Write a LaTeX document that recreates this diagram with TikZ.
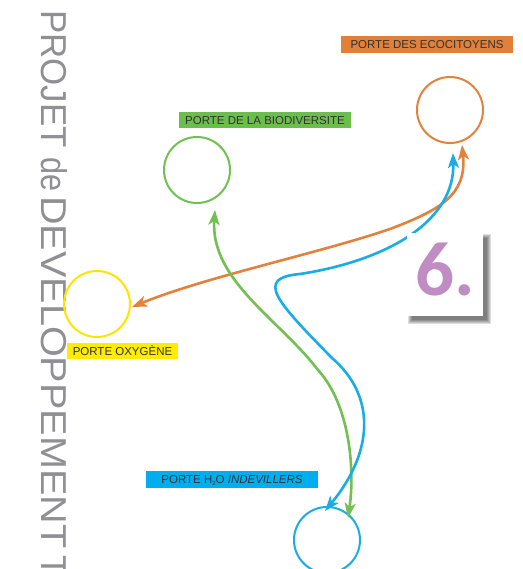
\documentclass[tikz,border=0pt]{standalone}
\usepackage{fontspec}
\setmainfont{Liberation Sans}
\newfontfamily\carlitofont{Carlito}
\usetikzlibrary{arrows.meta,calc}
\definecolor{oraline}{HTML}{E2823D}
\definecolor{orafill}{HTML}{E2803A}
\definecolor{grnline}{HTML}{72BF52}
\definecolor{grnfill}{HTML}{6BBD4E}
\definecolor{bluline}{HTML}{1AACE5}
\definecolor{blufill}{HTML}{00AEEF}
\definecolor{yelline}{HTML}{FFE400}
\definecolor{yelfill}{HTML}{FFEC00}
\definecolor{labeltxt}{HTML}{333333}
\definecolor{titlegray}{HTML}{909094}
\definecolor{sixpurple}{HTML}{BF8DC3}
\begin{document}
\begin{tikzpicture}[x=1pt,y=-1pt,
  gate/.style={circle,draw=#1,line width=2pt,minimum size=66pt,inner sep=0pt},
  lbl/.style={fill=#1,text=labeltxt,font=\fontsize{11.5}{12}\selectfont,
    minimum height=16.5pt,inner sep=0pt,text height=8.2pt,text depth=0pt},
  titleword/.style={rotate=-90,anchor=base west,inner sep=0pt,text=titlegray,
    font=\fontsize{36}{36}\selectfont},
  link/.style={line width=2.6pt,draw=#1,
    {Stealth[length=15pt,width=11pt,inset=4pt]}-{Stealth[length=15pt,width=11pt,inset=4pt]}}]
\clip (0,0) rectangle (522,569);
\fill[white] (0,0) rectangle (522,569);

% vertical title
\node[titleword] (t1) at (41,10) {\scalebox{0.97}[1]{PROJET}};
\node[titleword] (t2) at (41,157) {\scalebox{0.85}[1]{de}};
\node[titleword] (t3) at (41,196) {\scalebox{1.1}[1]{DEVELOPPEMENT}};
\node[titleword] (t4) at (41,555) {T};

% gates
\node[gate=oraline] (eco) at (450,110) {};
\node[gate=grnline] (bio) at (197,170) {};
\node[gate=yelline] (oxy) at (97,304) {};
\node[gate=bluline] (h2o) at (327,540) {};

% labels
\node[lbl=orafill,minimum width=172pt] (ecolbl) at (427,44.5) {PORTE DES ECOCITOYENS};
\node[lbl=grnfill,minimum width=172pt] (biolbl) at (265,120) {PORTE DE LA BIODIVERSITE};
\node[lbl=yelfill,minimum width=111pt] (oxylbl) at (122.5,351) {PORTE OXYGÈNE};
\node[lbl=blufill,minimum width=172pt] (h2olbl) at (232,479.5)
  {PORTE H{\fontsize{6}{6}\selectfont\raisebox{-1.5pt}{2}}O \textit{INDEVILLERS}};

% connector ends
\coordinate (ecoO) at ($(eco)+(12,35)$);
\coordinate (ecoB) at ($(eco)+(3,43)$);
\coordinate (bioG) at ($(bio)+(18,40)$);
\coordinate (oxyO) at ($(oxy)+(35,3)$);
\coordinate (h2oB) at ($(h2o)+(-2,-29)$);
\coordinate (h2oG) at ($(h2o)+(21,-22)$);

% connectors
\draw[link=oraline] (oxyO) .. controls (205,277) and (320,253) .. (390,229)
  .. controls (440,210) and (467,195) .. (ecoO);
\draw[link=grnline] (bioG) .. controls (210,280) and (280,320) .. (318,370)
  .. controls (350,405) and (355,470) .. (h2oG);
\draw[link=bluline] (h2oB) .. controls (375,450) and (375,395) .. (332,358)
  .. controls (275,300) and (255,278) .. (300,274)
  .. controls (390,260) and (455,220) .. (ecoB);

% number box with soft shadow
\path (445,274.5) node[minimum width=75pt,minimum height=82pt,inner sep=0pt] (six) {};
\foreach \e in {0,1,2,3,4}{
  \fill[black,opacity=0.13] ($(six.north west)+(5-\e,5-\e)$) rectangle ($(six.south east)+(4+\e,4+\e)$);
}
\fill[white] (six.north west) rectangle (six.south east);
\node[anchor=base,inner sep=0pt,text=sixpurple,
  font=\carlitofont\bfseries\fontsize{77}{77}\selectfont] (sixtxt) at (445,295) {6.};
\end{tikzpicture}
\end{document}
